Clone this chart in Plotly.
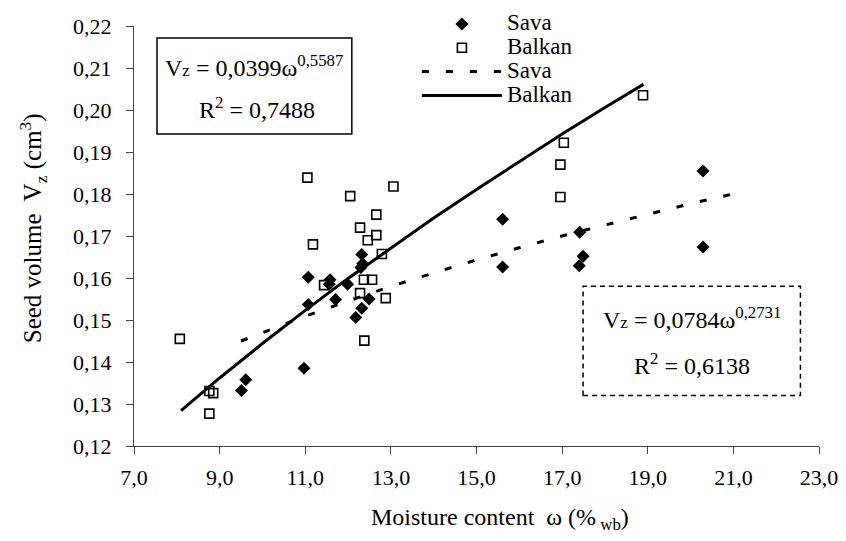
import plotly.graph_objects as go

# ---- data ----
sava_x = [9.51, 9.61, 10.97, 11.07, 11.07, 11.58, 11.56, 11.99, 11.71, 12.32, 12.34, 12.30,
          12.49, 12.32, 12.18, 15.61, 15.61, 17.41, 17.49, 17.40, 20.29, 20.29]
sava_y = [0.1332, 0.1358, 0.1385, 0.1537, 0.1602, 0.1596, 0.1585, 0.1585, 0.1549, 0.1656, 0.1634, 0.1625,
          0.1550, 0.1528, 0.1506, 0.1740, 0.1626, 0.1709, 0.1652, 0.1629, 0.1855, 0.1674]

balkan_x = [8.07, 8.76, 8.85, 8.76, 11.05, 11.18, 11.44, 12.05, 12.28, 12.28, 12.37, 12.38,
            12.46, 12.56, 12.66, 12.66, 12.79, 12.88, 13.06, 16.96, 16.96, 17.04, 18.89]
balkan_y = [0.1455, 0.1331, 0.1326, 0.1277, 0.1839, 0.1680, 0.1583, 0.1795, 0.1720, 0.1564, 0.1596, 0.1451,
            0.1690, 0.1596, 0.1751, 0.1702, 0.1657, 0.1552, 0.1818, 0.1793, 0.1870, 0.1922, 0.2035]

# trend lines
sava_fit_x = [9.5, 10.0, 11.0, 12.0, 13.0, 14.0, 15.0, 16.0, 17.0, 18.0, 19.0, 20.0, 21.2]
sava_fit_y = [0.1450, 0.1470, 0.1509, 0.1545, 0.1580, 0.1612, 0.1643, 0.1672, 0.1700, 0.1726, 0.1752, 0.1777, 0.1805]

balkan_fit_x = [8.1, 9.0, 10.0, 11.0, 12.0, 13.0, 14.0, 15.0, 16.0, 17.0, 18.0, 18.9]
balkan_fit_y = [0.1284, 0.1362, 0.1444, 0.1523, 0.1599, 0.1672, 0.1743, 0.1811, 0.1878, 0.1943, 0.2006, 0.2061]

x_tickvals = [7, 9, 11, 13, 15, 17, 19, 21, 23]
x_ticktext = ["7,0", "9,0", "11,0", "13,0", "15,0", "17,0", "19,0", "21,0", "23,0"]
y_tickvals = [0.12, 0.13, 0.14, 0.15, 0.16, 0.17, 0.18, 0.19, 0.20, 0.21, 0.22]
y_ticktext = ["0,12", "0,13", "0,14", "0,15", "0,16", "0,17", "0,18", "0,19", "0,20", "0,21", "0,22"]

FONT = "Liberation Serif, Times New Roman, serif"

def lname(s):
    return '<span style="font-size:23px">' + s + '</span>'

fig = go.Figure()
fig.add_trace(go.Scatter(x=sava_x, y=sava_y, mode="markers", name=lname("Sava"),
                         marker=dict(symbol="diamond", size=10, color="black",
                                     line=dict(width=0))))
fig.add_trace(go.Scatter(x=balkan_x, y=balkan_y, mode="markers", name=lname("Balkan"),
                         marker=dict(symbol="square-open", size=9, color="black",
                                     line=dict(width=1.6, color="black"))))
fig.add_trace(go.Scatter(x=sava_fit_x, y=sava_fit_y, mode="lines", name=lname("Sava"),
                         line=dict(color="black", width=3, dash="7px,17px")))
fig.add_trace(go.Scatter(x=balkan_fit_x, y=balkan_fit_y, mode="lines", name=lname("Balkan"),
                         line=dict(color="black", width=3)))

axis_common = dict(showgrid=False, zeroline=False, showline=True, linecolor="#444", linewidth=1,
                   ticks="outside", ticklen=7, tickcolor="#444", tickwidth=1,
                   tickfont=dict(family=FONT, size=22, color="black"))

fig.update_xaxes(range=[7, 23], tickvals=x_tickvals, ticktext=x_ticktext,
                 ticklabelstandoff=5, **axis_common)
fig.update_yaxes(range=[0.12, 0.22], tickvals=y_tickvals, ticktext=y_ticktext,
                 ticklabelstandoff=10, **axis_common)

fig.add_shape(type="rect", xref="paper", yref="paper", x0=0.0336, x1=0.318, y0=0.7426, y1=0.9714,
              line=dict(color="black", width=1.5), fillcolor="white", layer="below")
fig.add_shape(type="rect", xref="paper", yref="paper", x0=0.6556, x1=0.9729, y0=0.1204, y1=0.3802,
              line=dict(color="black", width=1.5, dash="5px,4px"), fillcolor="rgba(0,0,0,0)")

box_font = dict(family=FONT, size=24, color="black")
ann = [
    dict(text="V<span style='font-size:17px'>z</span> = 0,0399ω<sup>0,5587</sup>",
         x=0.1758, y=0.905),
    dict(text="R<sup>2</sup> = 0,7488", x=0.1795, y=0.8045),
    dict(text="V<span style='font-size:17px'>z</span> = 0,0784ω<sup>0,2731</sup>",
         x=0.8144, y=0.305),
    dict(text="R<sup>2</sup> = 0,6138", x=0.8144, y=0.196),
]
for a in ann:
    fig.add_annotation(xref="paper", yref="paper", showarrow=False, font=box_font,
                       xanchor="center", yanchor="middle", **a)

fig.add_annotation(text="Seed volume  V<sub>z</sub> (cm<sup>3</sup>)", xref="paper", yref="paper",
                   x=-0.1474, y=0.5185, textangle=-90, showarrow=False,
                   xanchor="center", yanchor="middle",
                   font=dict(family=FONT, size=25, color="black"))
fig.add_annotation(text="Moisture content  ω (%<sub> wb</sub>)", xref="paper", yref="paper",
                   x=0.534, y=-0.1728, showarrow=False, xanchor="center", yanchor="middle",
                   font=dict(family=FONT, size=24, color="black"))

fig.update_layout(
    width=846, height=541,
    margin=dict(l=134, r=27, t=26, b=95, autoexpand=False),
    paper_bgcolor="white", plot_bgcolor="white",
    font=dict(family=FONT, color="black"),
    legend=dict(x=0.413, y=1.045, xanchor="left", yanchor="top",
                font=dict(family=FONT, size=16, color="black"),
                bgcolor="rgba(255,255,255,0)", itemwidth=80, tracegroupgap=0),
)

fig.write_html("out.html", config={"displayModeBar": False},
               post_script="document.body.style.margin='0px';")
